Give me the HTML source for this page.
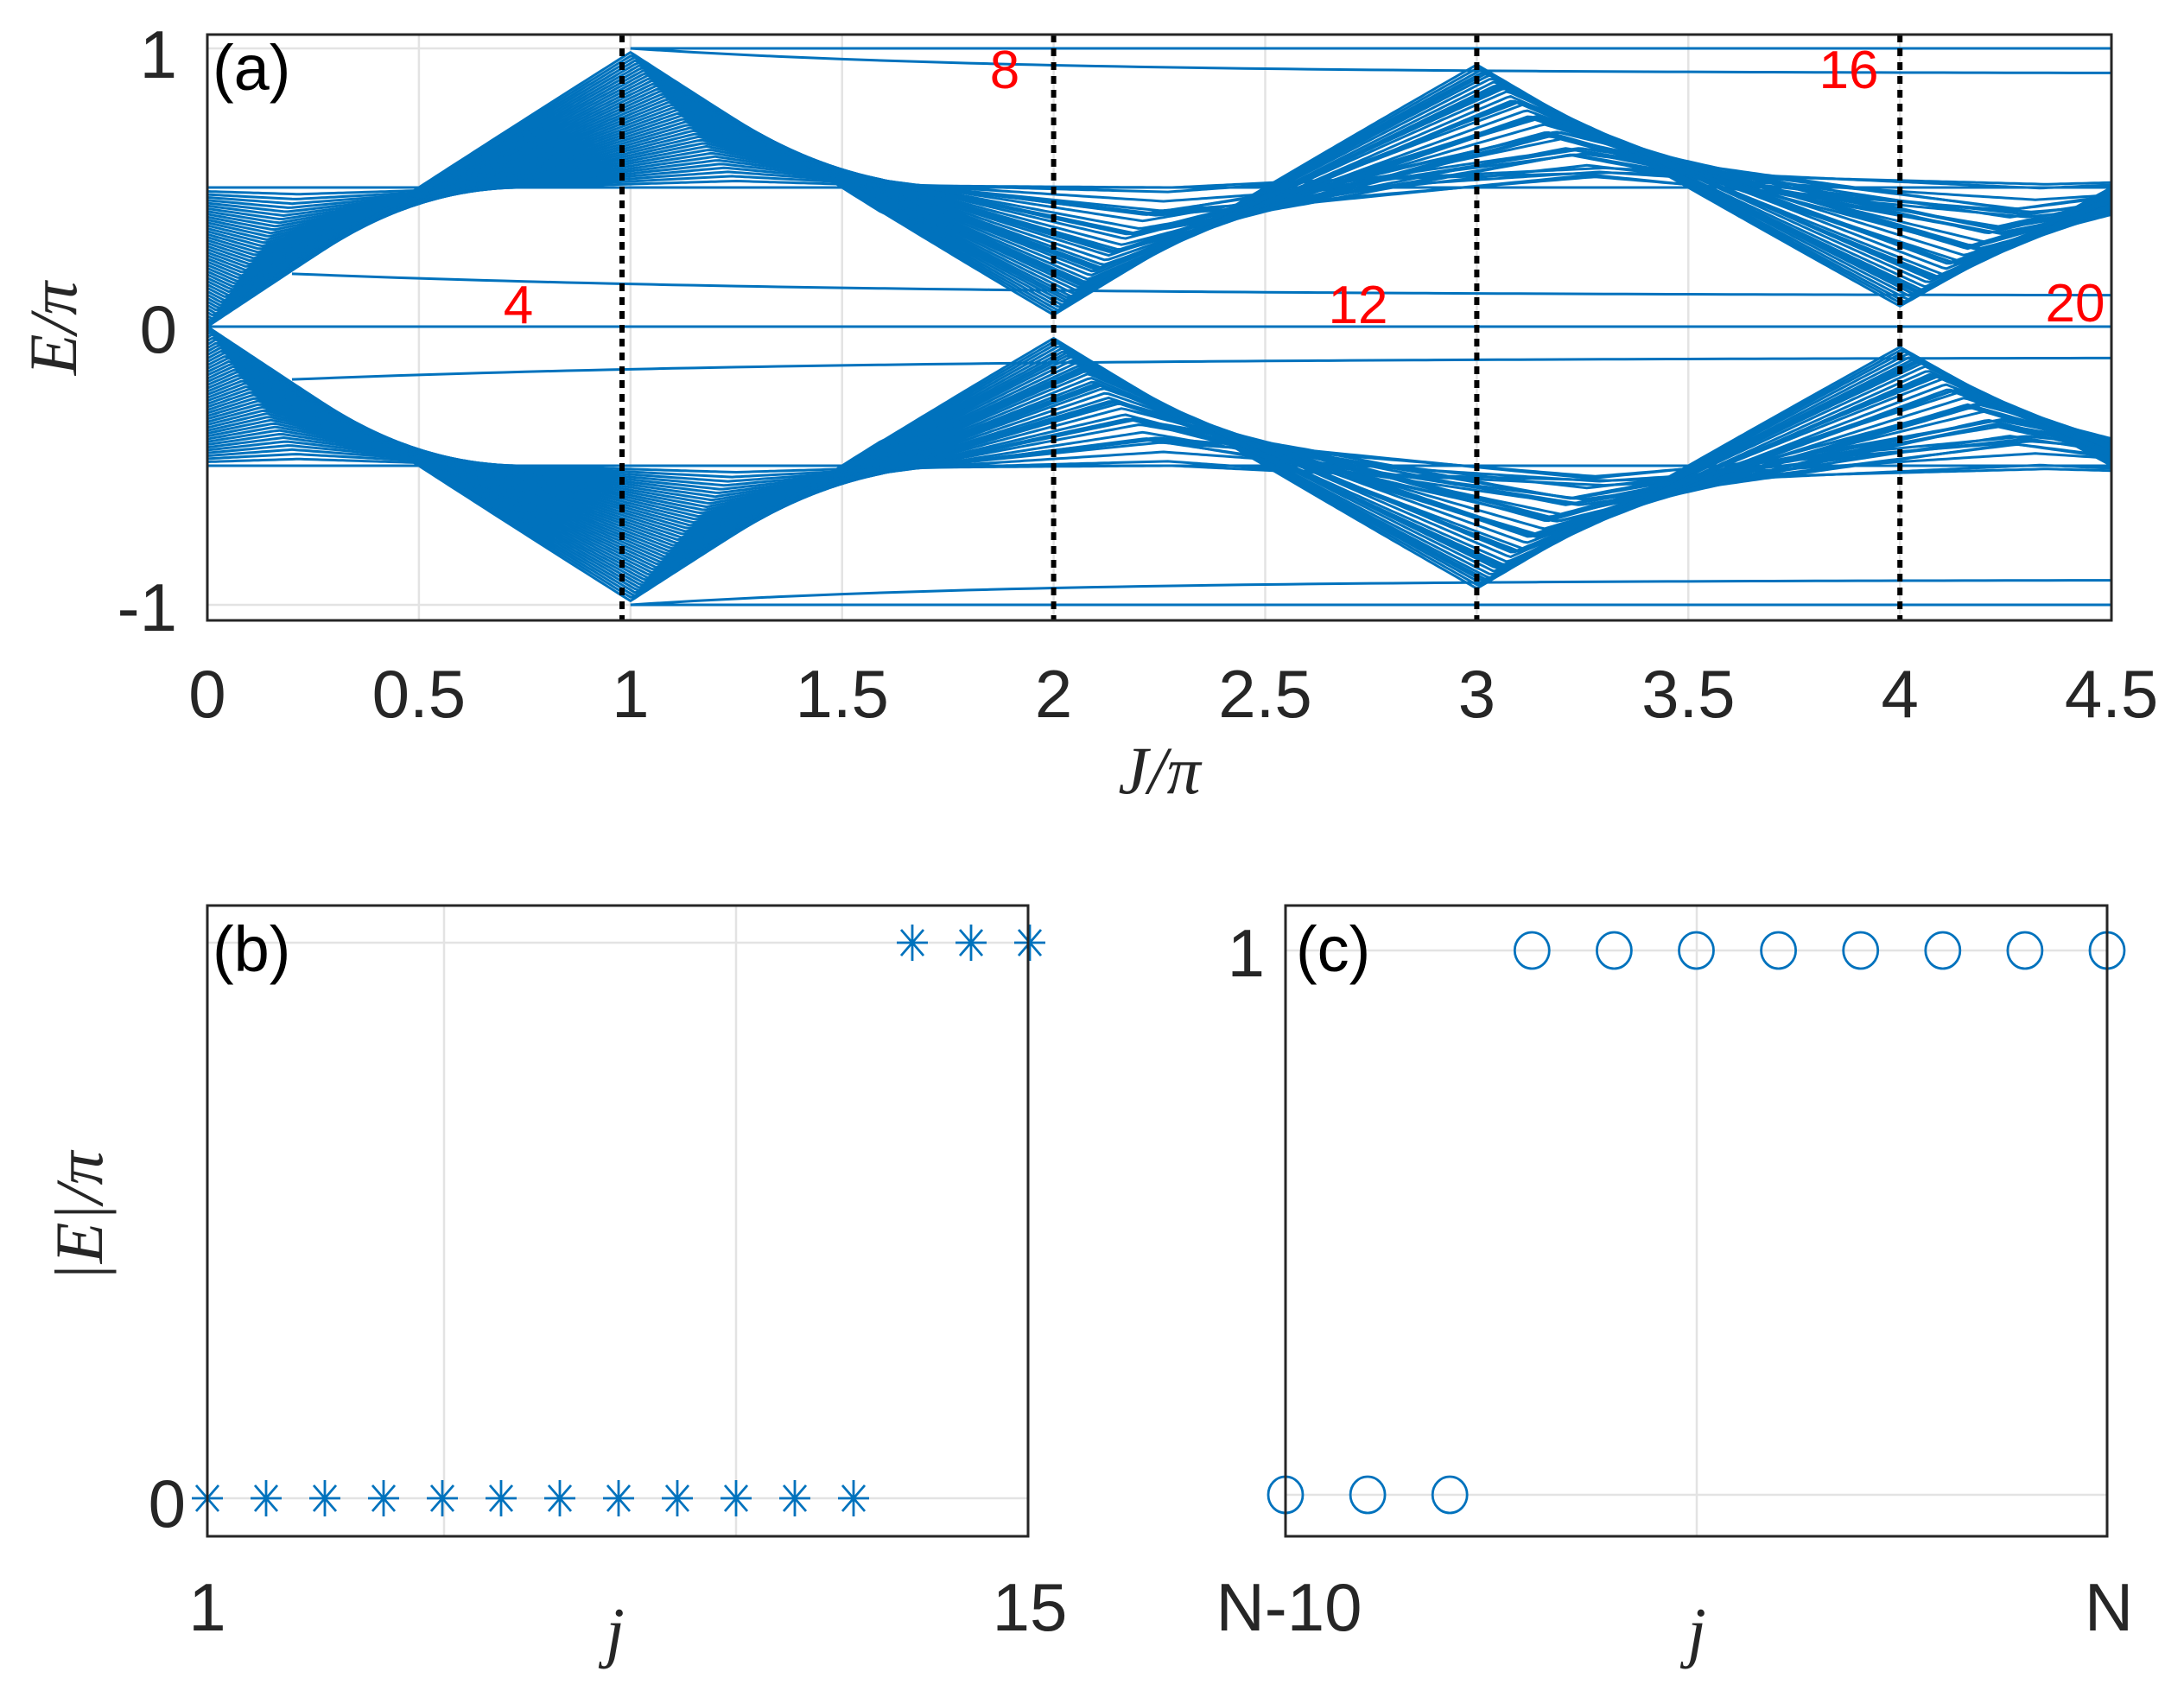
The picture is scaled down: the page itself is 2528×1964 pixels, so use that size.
<!DOCTYPE html>
<html><head><meta charset="utf-8"><style>
html,body{margin:0;padding:0;background:#fff;}
svg{display:block;}
text{font-family:"Liberation Sans",sans-serif;}
.tk{font-size:78px;fill:#262626;}
.ser{font-family:"Liberation Serif",serif;font-style:italic;fill:#262626;}
.red{font-size:62px;fill:#ff0000;}
</style></head><body>
<svg id="s" width="2528" height="1964" viewBox="0 0 2528 1964" xmlns="http://www.w3.org/2000/svg">
<defs><clipPath id="ca"><rect x="240" y="40" width="2204" height="678"/></clipPath></defs>
<rect width="2528" height="1964" fill="#fff"/>
<g id="grid" stroke="#e3e3e3" stroke-width="2.5"></g>
<g id="bands" clip-path="url(#ca)" fill="none" stroke="#0072BD" stroke-width="3" stroke-linejoin="round"></g>
<g id="dots" stroke="#000" stroke-width="6" stroke-dasharray="9,7"></g>
<rect x="240" y="40" width="2204" height="678" fill="none" stroke="#262626" stroke-width="3"/>
<text x="246" y="104" style="font-size:74px;fill:#000">(a)</text>
<text x="1163" y="102" text-anchor="middle" class="red">8</text>
<text x="2140" y="102" text-anchor="middle" class="red">16</text>
<text x="600" y="374" text-anchor="middle" class="red">4</text>
<text x="1572" y="374" text-anchor="middle" class="red">12</text>
<text x="2402" y="372" text-anchor="middle" class="red">20</text>
<g class="tk" text-anchor="end">
<text x="205" y="90">1</text><text x="205" y="408">0</text><text x="205" y="730">-1</text>
</g>
<g class="tk" text-anchor="middle" id="xt"></g>
<text x="1342" y="918" text-anchor="middle" class="ser" style="font-size:78px">J/π</text>
<text transform="translate(88,380) rotate(-90)" text-anchor="middle" class="ser" style="font-size:78px">E/π</text>

<!-- panel b -->
<line x1="514" y1="1048" x2="514" y2="1778" stroke="#e3e3e3" stroke-width="2.5"/>
<line x1="852" y1="1048" x2="852" y2="1778" stroke="#e3e3e3" stroke-width="2.5"/>
<line x1="240" y1="1091" x2="1190" y2="1091" stroke="#e3e3e3" stroke-width="2.5"/>
<line x1="240" y1="1734" x2="1190" y2="1734" stroke="#e3e3e3" stroke-width="2.5"/>
<g id="stars" stroke="#0072BD" stroke-width="2.8"></g>
<rect x="240" y="1048" width="950" height="730" fill="none" stroke="#262626" stroke-width="3"/>
<text x="246" y="1124" style="font-size:74px;fill:#000">(b)</text>
<text x="215" y="1767" text-anchor="end" class="tk">0</text>
<text x="240" y="1887" text-anchor="middle" class="tk">1</text>
<text x="1192" y="1887" text-anchor="middle" class="tk">15</text>
<text x="712" y="1915" text-anchor="middle" class="ser" style="font-size:78px">j</text>
<text transform="translate(118,1408) rotate(-90)" text-anchor="middle" class="ser" style="font-size:78px">|E|/π</text>

<!-- panel c -->
<line x1="1964" y1="1048" x2="1964" y2="1778" stroke="#e3e3e3" stroke-width="2.5"/>
<line x1="1488" y1="1100" x2="2439" y2="1100" stroke="#e3e3e3" stroke-width="2.5"/>
<line x1="1488" y1="1730" x2="2439" y2="1730" stroke="#e3e3e3" stroke-width="2.5"/>
<g id="circs" stroke="#0072BD" stroke-width="2.8" fill="none"></g>
<rect x="1488" y="1048" width="951" height="730" fill="none" stroke="#262626" stroke-width="3"/>
<text x="1500" y="1124" style="font-size:74px;fill:#000">(c)</text>
<text x="1464" y="1130" text-anchor="end" class="tk">1</text>
<text x="1492" y="1887" text-anchor="middle" class="tk">N-10</text>
<text x="2441" y="1887" text-anchor="middle" class="tk">N</text>
<text x="1964" y="1915" text-anchor="middle" class="ser" style="font-size:78px">j</text>
</svg>
<script>
var NS="http://www.w3.org/2000/svg";
function el(p,t,a){var e=document.createElementNS(NS,t);for(var k in a)e.setAttribute(k,a[k]);document.getElementById(p).appendChild(e);return e;}
function X(J){return 240+489.8*J;}
function Y(E){return 378-322*E;}
for(var i=1;i<9;i++){el("grid","line",{x1:X(i*0.5),y1:40,x2:X(i*0.5),y2:718});}
[-1,0,1].forEach(function(e){el("grid","line",{x1:240,y1:Y(e),x2:2444,y2:Y(e)});});
var labs=["0","0.5","1","1.5","2","2.5","3","3.5","4","4.5"];
labs.forEach(function(l,i){var t=el("xt","text",{x:X(i*0.5),y:830});t.textContent=l;});
[0.98,2,3,4].forEach(function(J){el("dots","line",{x1:X(J),y1:40,x2:X(J),y2:718});});
function T(J){var m=((J%2)+2)%2;return 1-Math.abs(m-1);}
var N=44;
for(var s=-1;s<=1;s+=2){
 for(var i=0;i<=N;i++){
  var c=Math.pow(i/N,0.8);
  var pts=[];
  for(var J=0;J<=4.5001;J+=0.01){
   var decay=Math.exp(-J*0.12);
   var d=(1-c)*0.22*(1+J*0.15);
   var cc=c*(0.75+0.25*decay);
   var E=0.5+(T(J-d)-0.5)*cc;
   if(J>1.6){E=0.5+(E-0.5)*(0.85+0.15*decay)+0.04*(1-c)*Math.sin(i)*Math.min(1,(J-1.6));}
   pts.push(X(J).toFixed(1)+","+Y(s*E).toFixed(1));
  }
  el("bands","polyline",{points:pts.join(" ")});
 }
 var p1=[],p2=[];
 for(var J=0.2;J<=4.5001;J+=0.05){var E=0.11+0.08*Math.exp(-(J-0.2)/1.3);p1.push(X(J)+","+Y(s*E));}
 el("bands","polyline",{points:p1.join(" ")});
 for(var J=1;J<=4.5001;J+=0.05){var E=1-0.09*(1-Math.exp(-(J-1)/0.9));p2.push(X(J)+","+Y(s*E));}
 el("bands","polyline",{points:p2.join(" ")});
 el("bands","line",{x1:X(1),y1:Y(s*1),x2:2444,y2:Y(s*1)});
}
el("bands","line",{x1:240,y1:Y(0),x2:2444,y2:Y(0)});
function star(x,y){var r=18,h=21;el("stars","line",{x1:x-r,y1:y,x2:x+r,y2:y});el("stars","line",{x1:x,y1:y-h,x2:x,y2:y+h});
 el("stars","line",{x1:x-13,y1:y-15,x2:x+13,y2:y+15});el("stars","line",{x1:x-13,y1:y+15,x2:x+13,y2:y-15});}
for(var k=0;k<15;k++){star(240+68*k,k<12?1734:1091);}
for(var k=0;k<11;k++){el("circs","ellipse",{cx:1488+95.1*k,cy:k<3?1730:1100,rx:20,ry:21});}
</script>
</body></html>
